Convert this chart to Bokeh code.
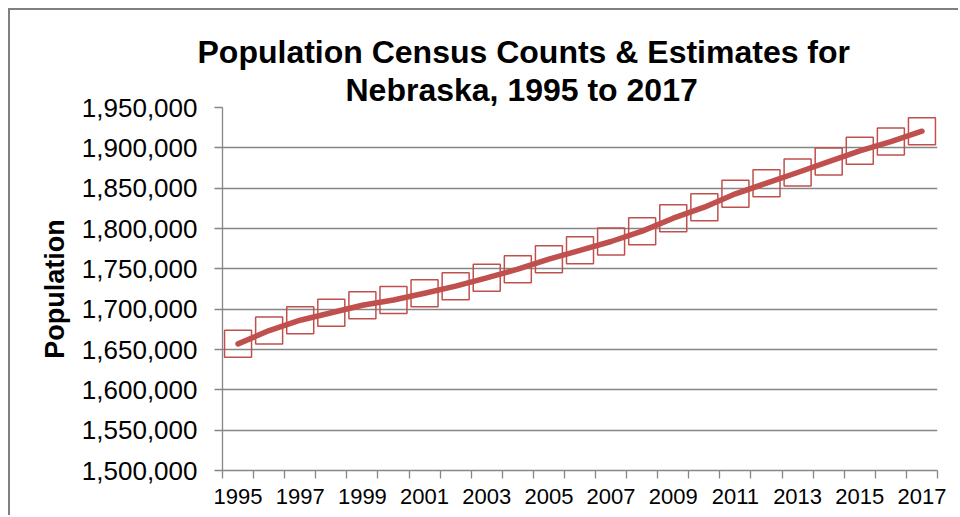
from bokeh.plotting import figure
from bokeh.models import FixedTicker, NumeralTickFormatter, Range1d, Title
from bokeh.embed import file_html
from bokeh.resources import INLINE

# Nebraska resident population, census counts and annual estimates
years = list(range(1995, 2018))
population = [
    1657000, 1673500, 1686300, 1695500, 1704800, 1711400, 1719800, 1728500,
    1738900, 1749600, 1762000, 1772900, 1783900, 1796700, 1812800, 1826400,
    1843000, 1856200, 1869400, 1883000, 1896300, 1907800, 1920600,
]
y_ticks = list(range(1500000, 1950001, 50000))
x_label_years = years[::2]
title_lines = ["Population Census Counts & Estimates for", "Nebraska, 1995 to 2017"]
y_title = "Population"

FONT = "Liberation Sans"
RED = "#C0504D"
GRAY = "#868686"

# the chart sits inside a gray left/top frame drawn with CSS
p = figure(
    width=950, height=507, output_backend="svg", toolbar_location=None,
    x_range=Range1d(years[0] - 0.5, years[-1] + 0.5),
    y_range=Range1d(y_ticks[0], y_ticks[-1]),
    min_border_left=212, min_border_right=23, min_border_top=97, min_border_bottom=47,
)
p.styles = {
    "margin-left": "8px", "margin-top": "8px",
    "border-left": "2px solid #808080", "border-top": "2px solid #808080",
}
p.outline_line_color = None
p.background_fill_color = "white"
p.border_fill_color = "white"

# horizontal gridlines only
p.xgrid.visible = False
p.ygrid.grid_line_color = GRAY
p.ygrid.grid_line_width = 1.3

# y axis
yax = p.yaxis[0]
yax.ticker = FixedTicker(ticks=y_ticks)
yax.formatter = NumeralTickFormatter(format="0,0")
yax.axis_line_color = GRAY
yax.axis_line_width = 1.3
yax.major_tick_out = 8
yax.major_tick_in = 0
yax.major_tick_line_color = GRAY
yax.major_tick_line_width = 1.3
yax.minor_tick_line_color = None
yax.major_label_text_font = FONT
yax.major_label_text_font_size = "26px"
yax.major_label_text_color = "black"
yax.major_label_standoff = 17
yax.axis_label = y_title
yax.axis_label_text_font = FONT
yax.axis_label_text_font_style = "bold"
yax.axis_label_text_font_size = "27px"
yax.axis_label_text_color = "black"
yax.axis_label_standoff = 9

# x axis: ticks between the yearly categories, labels on every other year
xax = p.xaxis[0]
xax.ticker = FixedTicker(
    ticks=x_label_years,
    minor_ticks=[y - 0.5 for y in years] + [years[-1] + 0.5],
)
xax.formatter = NumeralTickFormatter(format="0")
xax.axis_line_color = GRAY
xax.axis_line_width = 1.3
xax.major_tick_line_color = None
xax.major_tick_out = 8
xax.major_tick_in = 0
xax.minor_tick_line_color = GRAY
xax.minor_tick_line_width = 1.3
xax.minor_tick_out = 8
xax.minor_tick_in = 0
xax.major_label_text_font = FONT
xax.major_label_text_font_size = "22px"
xax.major_label_text_color = "black"
xax.major_label_standoff = 10

# series: smooth red trend line with hollow square markers
p.line(years, population, line_color=RED, line_width=5.5, line_cap="round", line_join="round")
p.scatter(years, population, marker="square", size=27, fill_color=None,
          line_color=RED, line_width=1.5)

# two-line chart title, second line nearest the plot
for text, offset in [(title_lines[1], 123), (title_lines[0], -25)]:
    p.add_layout(Title(
        text=text, align="left", offset=offset, standoff=0,
        text_font=FONT, text_font_style="bold", text_font_size="32px",
        text_color="black", text_line_height=1.0,
    ), "above")

open("out.html", "w").write(file_html(p, INLINE))
